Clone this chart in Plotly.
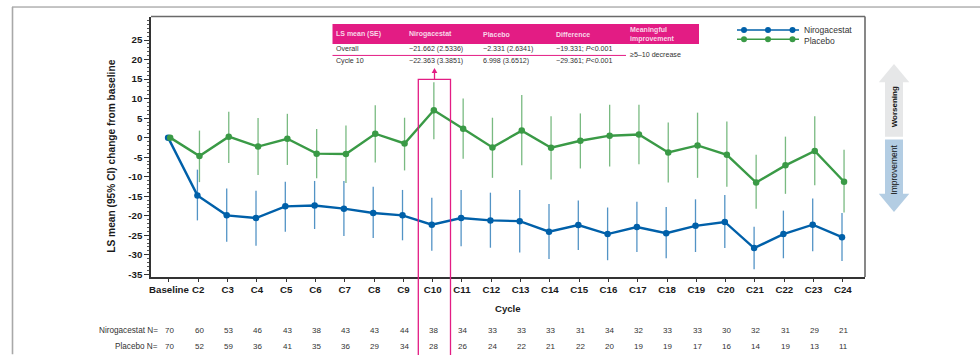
import plotly.graph_objects as go

cycles = ["Baseline"] + [f"C{i}" for i in range(2, 25)]
niro_mean = [0, -14.8, -19.9, -20.6, -17.6, -17.4, -18.2, -19.3, -19.9, -22.3, -20.6, -21.2, -21.4, -24.1, -22.4, -24.7, -22.9, -24.5, -22.6, -21.6, -28.3, -24.7, -22.3, -25.5]
niro_hi = [0, -8.2, -13.0, -13.6, -11.3, -11.1, -11.1, -12.6, -13.4, -15.4, -13.4, -14.1, -13.4, -17.0, -16.1, -17.9, -16.4, -17.8, -15.8, -14.7, -22.8, -18.7, -15.6, -19.3]
niro_lo = [0, -21.2, -26.7, -27.7, -24.1, -23.4, -25.2, -25.7, -26.3, -29.0, -27.8, -28.2, -29.4, -31.1, -28.8, -31.4, -29.3, -30.9, -29.3, -28.3, -33.7, -30.9, -29.1, -31.6]
plac_mean = [0, -4.7, 0.25, -2.3, -0.3, -4.1, -4.2, 1.0, -1.5, 7.0, 2.3, -2.5, 1.8, -2.6, -0.8, 0.5, 0.8, -3.8, -2.0, -4.4, -11.5, -7.1, -3.4, -11.3]
plac_hi = [0, 1.8, 6.6, 5.0, 6.1, 2.2, 3.1, 8.3, 5.1, 14.2, 10.0, 5.1, 10.9, 5.5, 6.2, 8.4, 8.4, 3.9, 6.4, 4.1, -4.4, 0.25, 5.5, -3.1]
plac_lo = [0, -11.4, -6.5, -9.6, -7.0, -10.4, -11.6, -6.4, -8.4, -0.4, -5.4, -10.3, -7.1, -10.7, -7.9, -7.4, -6.8, -11.5, -10.3, -12.6, -18.2, -14.4, -12.2, -19.2]
niro_n = [70, 60, 53, 46, 43, 38, 43, 43, 44, 38, 34, 33, 33, 33, 31, 34, 32, 33, 33, 30, 32, 31, 29, 21]
plac_n = [70, 52, 59, 36, 41, 35, 36, 29, 34, 28, 26, 24, 22, 21, 22, 20, 19, 19, 17, 16, 14, 19, 13, 11]
y_ticks = [25, 20, 15, 10, 5, 0, -5, -10, -15, -20, -25, -30, -35]
table_header = ["LS mean (SE)", "Nirogacestat", "Placebo", "Difference", "Meaningful<br>improvement"]
table_rows = [
    ["Overall", "−21.662 (2.5336)", "−2.331 (2.6341)", "−19.331; <i>P</i>&lt;0.001"],
    ["Cycle 10", "−22.363 (3.3851)", "6.998 (3.6512)", "−29.361; <i>P</i>&lt;0.001"],
]

BLUE, GREEN = "#0060a9", "#3a9a46"
PINK = "#e31c84"
FONT = "Liberation Sans"
L, T, W, H = 151, 17, 714, 260.5


def fx(p):
    return (p - L) / W


def fy(p):
    return 1 - (p - T) / H


def series(name, mean, hi, lo, color, ci_color, dx):
    return go.Scatter(
        x=[i + dx for i in range(len(mean))], y=mean, name=name, mode="lines+markers",
        line=dict(color=color, width=2.4), marker=dict(color=color, size=6.5),
        error_y=dict(type="data", symmetric=False,
                     array=[h - m for h, m in zip(hi, mean)],
                     arrayminus=[m - l for m, l in zip(mean, lo)],
                     color=ci_color, thickness=1.3, width=0),
    )


fig = go.Figure()
fig.add_trace(series("Nirogacestat", niro_mean, niro_hi, niro_lo, BLUE, "rgba(0,96,169,0.68)", -0.03))
fig.add_trace(series("Placebo", plac_mean, plac_hi, plac_lo, GREEN, "rgba(58,154,70,0.68)", 0.04))

shapes, notes = [], []


def line(x0, y0, x1, y1, color, width=1):
    shapes.append(dict(type="line", xref="paper", yref="paper", x0=fx(x0), y0=fy(y0), x1=fx(x1), y1=fy(y1),
                       line=dict(color=color, width=width)))


def rect(x0, y0, x1, y1, fill):
    shapes.append(dict(type="rect", xref="paper", yref="paper", x0=fx(x0), y0=fy(y0), x1=fx(x1), y1=fy(y1),
                       fillcolor=fill, line=dict(width=0)))


def poly(pts, fill):
    path = "M" + " L".join(f"{fx(a):.5f},{fy(b):.5f}" for a, b in pts) + " Z"
    shapes.append(dict(type="path", xref="paper", yref="paper", path=path, fillcolor=fill, line=dict(width=0)))


def text(x, y, s, size=8, color="#333333", bold=False, anchor="left", angle=0):
    notes.append(dict(xref="paper", yref="paper", x=fx(x), y=fy(y), text=f"<b>{s}</b>" if bold else s,
                      showarrow=False, xanchor=anchor, yanchor="middle", textangle=angle, align="left",
                      borderpad=0, font=dict(family=FONT, size=size, color=color)))


# outer frame and the two light plot edges
line(12, 7, 980, 7, "#8a8a8a", 1)
line(12.5, 7, 12.5, 355, "#a8a8a8", 1.6)
line(L, T - 0.5, 865, T - 0.5, "#6a6a6a", 1.6)
line(865, T - 0.5, 865, 277.5, "#6a6a6a", 1.6)

# table
rect(332.5, 24, 699, 44, PINK)
col_x = [334.5, 408, 481.5, 555, 628.5]
for x, s in zip(col_x, table_header):
    text(x, 34.3, s, 7, "#f8d7e8", bold=True)
for y, row in zip([49.3, 61.5], table_rows):
    for x, s in zip(col_x, row):
        text(x, y, s, 7.1, "#333333")
line(332.5, 55.5, 626, 55.5, PINK, 1)
text(628.5, 55.5, "≥5–10 decrease", 7.1, "#333333")

# Cycle 10 highlight
shapes.append(dict(type="rect", xref="paper", yref="paper", x0=fx(418.3), x1=fx(450.5), y0=fy(357), y1=fy(79.5),
                   line=dict(color=PINK, width=1.3), fillcolor="rgba(0,0,0,0)"))
line(434.5, 79.5, 434.5, 72, PINK, 1.3)
poly([(434.5, 68), (431.7, 73), (437.3, 73)], PINK)

# legend
for y, c, s, ty in [(30, BLUE, "Nirogacestat", 30), (39.3, GREEN, "Placebo", 40.8)]:
    line(737, y, 799, y, c, 1.5)
    for cx in (744, 768, 792.5):
        shapes.append(dict(type="circle", xref="paper", yref="paper", x0=fx(cx - 3), x1=fx(cx + 3),
                           y0=fy(y + 3), y1=fy(y - 3), fillcolor=c, line=dict(width=0)))
    text(802.5, ty, s, 8.5, "#333333")

# direction arrows
poly([(894, 64), (909.3, 82.3), (903, 82.3), (903, 137), (885, 137), (885, 82.3), (878.8, 82.3)], "#e6e7e8")
poly([(885, 139.7), (903, 139.7), (903, 194), (909.3, 194), (894, 212.3), (878.8, 194), (885, 194)], "#b3cde3")
text(894.5, 107, "Worsening", 8, "#111111", bold=True, anchor="center", angle=-90)
text(894.5, 170.5, "Improvement", 8.5, "#111111", anchor="center", angle=-90)

# axis titles
text(112, 157, "LS mean (95% CI) change from baseline", 10.2, "#1a1a1a", bold=True, anchor="center", angle=-90)
text(507.5, 309.5, "Cycle", 9.6, "#1a1a1a", bold=True, anchor="center")

# at-risk rows
text(159, 331, "Nirogacestat N=", 8.2, "#333333", anchor="right")
text(159, 347, "Placebo N=", 8.2, "#333333", anchor="right")
for i, (a, b) in enumerate(zip(niro_n, plac_n)):
    for v, py in ((a, 331), (b, 347)):
        notes.append(dict(xref="x", yref="paper", x=i + 0.03, y=fy(py), text=str(v), showarrow=False,
                          xanchor="center", yanchor="middle", font=dict(family=FONT, size=8, color="#333333")))

fig.update_layout(
    width=980, height=355, margin=dict(l=L, r=980 - 865, t=T, b=355 - 277.5),
    paper_bgcolor="white", plot_bgcolor="white", showlegend=False,
    font=dict(family=FONT), shapes=shapes, annotations=notes,
    xaxis=dict(range=[-0.614, 23.755], tickmode="array", tickvals=list(range(len(cycles))), ticktext=cycles,
               showgrid=False, zeroline=False, showline=True, linecolor="#333333", linewidth=1.5,
               ticks="outside", ticklen=3, tickcolor="#333333", tickwidth=1,
               tickfont=dict(family=FONT, size=9.7, color="#1a1a1a", weight="bold"), tickangle=0),
    yaxis=dict(range=[-35.7, 30.9], tickmode="array", tickvals=y_ticks, ticktext=[str(v) for v in y_ticks],
               showgrid=False, zeroline=False, showline=True, linecolor="#333333", linewidth=1.5,
               ticks="outside", ticklen=5, tickcolor="#333333", tickwidth=1,
               minor=dict(ticks="outside", ticklen=2.5, tickcolor="#555555", tickwidth=0.8, dtick=1,
                          tick0=0, showgrid=False),
               tickfont=dict(family=FONT, size=9.7, color="#1a1a1a", weight="bold")),
)
fig.write_html("out.html", config=dict(displayModeBar=False),
               post_script="document.body.style.margin='0';document.body.style.overflow='hidden';")
